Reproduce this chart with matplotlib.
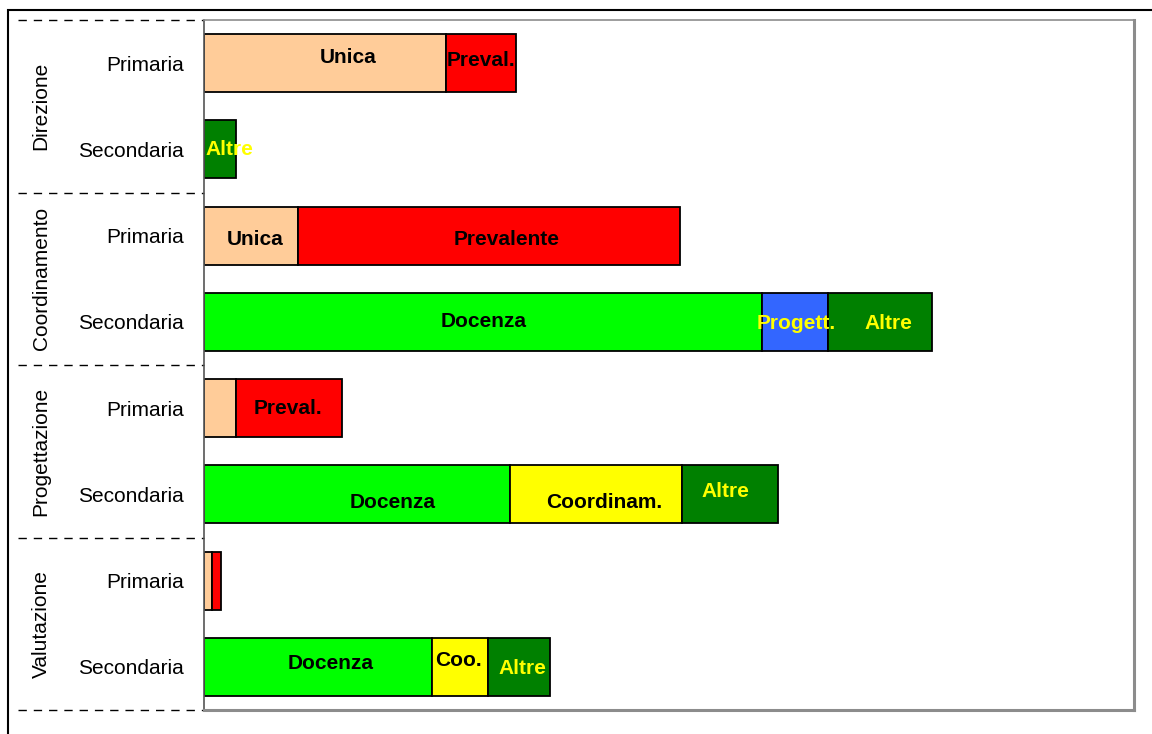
import matplotlib
matplotlib.use("Agg")
import matplotlib.pyplot as plt
from matplotlib.lines import Line2D
from matplotlib.patches import Rectangle
from matplotlib import font_manager

# ---------------- data ----------------
groups = ["Direzione", "Coordinamento", "Progettazione", "Valutazione"]
levels = ["Primaria", "Secondaria"]
row_labels = ["Primaria", "Secondaria"] * 4

# segments per row: values (share of axis, 0-100)
seg_values = [
    [26.0, 7.5],            # Direzione - Primaria
    [3.4],                  # Direzione - Secondaria
    [10.1, 41.1],           # Coordinamento - Primaria
    [60.0, 7.1, 11.2],      # Coordinamento - Secondaria
    [3.4, 11.4],            # Progettazione - Primaria
    [32.9, 18.5, 10.3],     # Progettazione - Secondaria
    [0.9, 0.9],             # Valutazione - Primaria
    [24.5, 6.0, 6.7],       # Valutazione - Secondaria
]
seg_kinds = [
    ["unica", "prev"],
    ["altre"],
    ["unica", "prev"],
    ["doc", "prog", "altre"],
    ["unica", "prev"],
    ["doc", "coord", "altre"],
    ["unica", "prev"],
    ["doc", "coord", "altre"],
]
seg_texts = [
    ["Unica", "Preval."],
    ["Altre"],
    ["Unica", "Prevalente"],
    ["Docenza", "Progett.", "Altre"],
    ["", "Preval."],
    ["Docenza", "Coordinam.", "Altre"],
    ["", ""],
    ["Docenza", "Coo.", "Altre"],
]

# ---------------- styles ----------------
fill = {"unica": "#FFCC99", "prev": "#FF0000", "doc": "#00FF00",
        "prog": "#3366FF", "coord": "#FFFF00", "altre": "#008000"}
txtcol = {"unica": "black", "prev": "black", "doc": "black",
          "prog": "#FFFF00", "coord": "black", "altre": "#FFFF00"}
# small pixel nudges for labels (dx, dy) - dy positive = up
nudges = [
    [(23, 6), (0, 3)],
    [(10, 0)],
    [(4, -4), (18, -4)],
    [(1, 0), (1, -2), (8, -2)],
    [(0, 0), (-1, 0)],
    [(36, -8), (8, -8), (-4, 3)],
    [(0, 0), (0, 0)],
    [(13, 3), (-1, 6), (4, -2)],
]

avail = {f.name for f in font_manager.fontManager.ttflist}
fam = [f for f in ["Liberation Sans Narrow", "Arial Narrow", "Liberation Sans", "DejaVu Sans"] if f in avail]
plt.rcParams["font.family"] = fam

W, H = 1152, 734
fig = plt.figure(figsize=(W / 100, H / 100), dpi=100)
ax = fig.add_axes([204 / W, 1 - 710 / H, (1134 - 204) / W, (710 - 20) / H])

bar_h = 0.67
for i, (vals, kinds, texts, nud) in enumerate(zip(seg_values, seg_kinds, seg_texts, nudges)):
    left = 0.0
    for v, k, t, (dx, dy) in zip(vals, kinds, texts, nud):
        ax.barh(i, v, left=left, height=bar_h, color=fill[k],
                edgecolor="black", linewidth=1.3, zorder=2)
        if t:
            ax.annotate(t, xy=(left + v / 2, i), xytext=(dx, dy),
                        textcoords="offset pixels", ha="center", va="center",
                        fontsize=15, fontweight="bold", color=txtcol[k],
                        zorder=5, annotation_clip=False)
        left += v

ax.set_xlim(0, 100)
ax.set_ylim(7.5, -0.5)
ax.set_xticks([])
ax.set_yticks(range(len(row_labels)))
ax.set_yticklabels(row_labels, fontsize=15)
ax.tick_params(axis="y", length=0, pad=14.5)

for side in ["top", "right", "bottom"]:
    ax.spines[side].set_color("#8c8c8c")
ax.spines["top"].set_linewidth(1.2)
ax.spines["right"].set_linewidth(2.2)
ax.spines["bottom"].set_linewidth(2.2)
ax.spines["left"].set_color("#555555")
ax.spines["left"].set_linewidth(1.2)

# group separators (dashed) and group labels
x0 = (18 - 204) / (1134 - 204)
for b in [-0.5, 1.5, 3.5, 5.5, 7.5]:
    ax.add_line(Line2D([x0, 0], [b, b], transform=ax.get_yaxis_transform(),
                       color="black", linestyle=(0, (6, 5)), linewidth=1.0,
                       clip_on=False))
xg = (41 - 204) / (1134 - 204)
for gi, g in enumerate(groups):
    ax.text(xg, 2 * gi + 0.5, g, transform=ax.get_yaxis_transform(),
            rotation=90, ha="center", va="center", fontsize=15)

# outer frame
fig.add_artist(Rectangle((8 / W, -0.05), 1.2, 1 - 10 / H + 0.05,
                         transform=fig.transFigure, fill=False,
                         edgecolor="black", linewidth=1.5))

fig.savefig("out.png", dpi=100)
